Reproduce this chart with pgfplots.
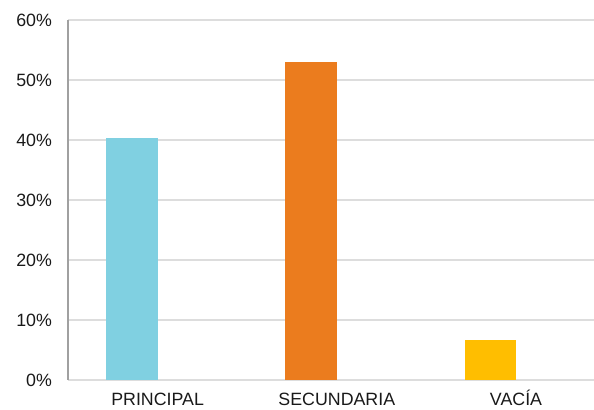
\documentclass[border=0pt]{standalone}
\usepackage{pgfplots}
\pgfplotsset{compat=1.18}
\usepackage{fontspec}
\setmainfont{Liberation Sans}
\definecolor{cblue}{RGB}{128,208,225}
\definecolor{corange}{RGB}{235,124,30}
\definecolor{cyellow}{RGB}{255,190,0}
\definecolor{gridc}{RGB}{221,221,221}
\definecolor{axc}{RGB}{160,160,160}
\begin{document}
\begin{tikzpicture}
\begin{axis}[
  scale only axis,
  width=526pt, height=360pt,
  xmin=-0.5, xmax=2.435,
  ymin=0, ymax=60,
  xtick={0,1,2},
  xticklabels={PRINCIPAL,SECUNDARIA,VACÍA},
  ytick={0,10,20,30,40,50,60},
  yticklabel={\pgfmathprintnumber{\tick}\%},
  /pgf/number format/assume math mode=true,
  tick label style={font=\fontsize{17.8}{20}\selectfont, text=black!90},
  xticklabel style={anchor=base, inner sep=0pt, yshift=-25.5pt},
  yticklabel style={xshift=-12.5pt},
  major tick length=0pt,
  axis x line*=bottom,
  axis y line*=left,
  x axis line style={draw=gridc, line width=1.3pt, -},
  y axis line style={draw=axc, line width=1.5pt, -},
  ymajorgrids,
  grid style={draw=gridc, line width=1.3pt},
  clip=false,
]
\addplot[ybar, bar width=51.5pt, bar shift=-25.75pt, fill=cblue, draw=none] coordinates {(0,40.3)};
\addplot[ybar, bar width=51.5pt, bar shift=-25.75pt, fill=corange, draw=none] coordinates {(1,53.0)};
\addplot[ybar, bar width=51.5pt, bar shift=-25.75pt, fill=cyellow, draw=none] coordinates {(2,6.7)};
\coordinate (ll) at (rel axis cs:0,0);
\coordinate (ur) at (rel axis cs:1,1);
\end{axis}
\pgfresetboundingbox
\path ([shift={(-68pt,-30pt)}]ll) rectangle ([shift={(0pt,20pt)}]ur);
\end{tikzpicture}
\end{document}
